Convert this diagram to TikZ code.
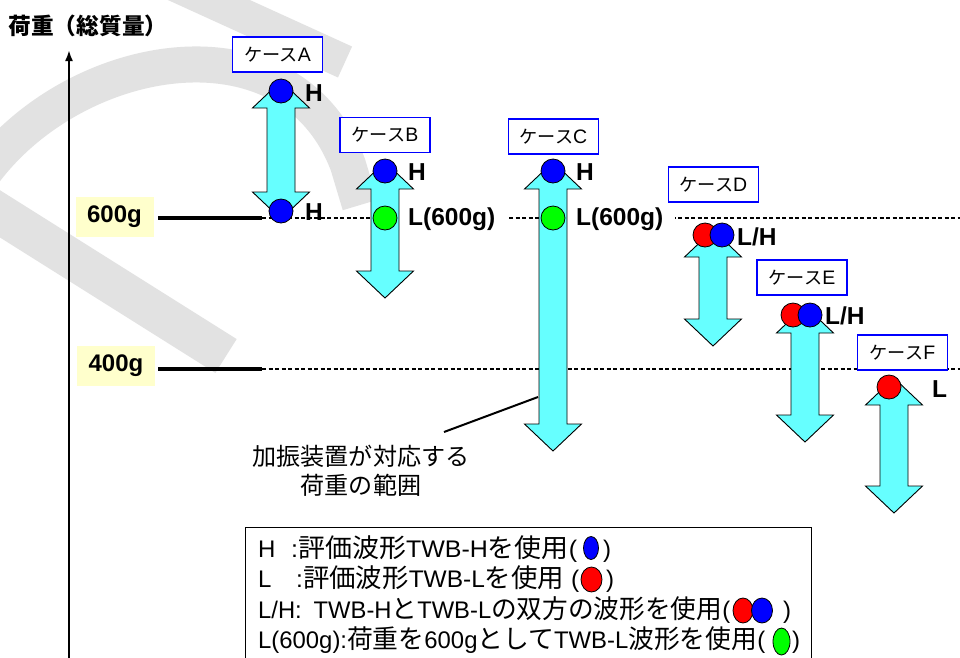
\documentclass[tikz,border=0pt]{standalone}
\usepackage{fontspec}
\usepackage{graphicx}
\setmainfont{Liberation Sans}
\newfontfamily\jp[Scale=1.08]{Noto Sans CJK JP}
\newcommand\J[1]{{\jp #1}}
\newcommand\Jc[1]{{\jp\fontsize{16.8}{18}\selectfont #1}}
\usetikzlibrary{arrows.meta,calc}
\definecolor{cyanA}{HTML}{66FFFF}
\definecolor{yel}{HTML}{FFFFCC}
\definecolor{pblue}{HTML}{0000FF}
\definecolor{pred}{HTML}{FF0000}
\definecolor{pgreen}{HTML}{00FF00}
\definecolor{wm}{HTML}{E2E2E2}
\newsavebox\fitbox
\newlength\fitlen
\newcommand\fitw[2]{\sbox\fitbox{#2}\setlength\fitlen{\wd\fitbox}\pgfmathsetmacro\fitsx{#1/\fitlen}\scalebox{\fitsx}[1]{\usebox\fitbox}}
\newcommand\dblarrow[3]{%
  \draw[arr] (#1-14,#2+27) -- (#1-28.5,#2+27) -- (#1,#2) -- (#1+28.5,#2+27) -- (#1+14,#2+27)
    -- (#1+14,#3-27) -- (#1+28.5,#3-27) -- (#1,#3) -- (#1-28.5,#3-27) -- (#1-14,#3-27) -- cycle;}
\begin{document}
\begin{tikzpicture}[x=1pt,y=-1pt,
  arr/.style={draw=black,line width=0.9pt,fill=cyanA,line join=miter},
  ball/.style={circle,draw=black,line width=0.8pt,minimum size=24pt,inner sep=0pt},
  casebox/.style={draw=pblue,line width=1.2pt,fill=white,minimum width=90pt,minimum height=35pt,inner sep=0pt,font=\fontsize{19.5}{19.5}\selectfont},
  lab/.style={anchor=west,inner sep=0pt,font=\fontsize{24.5}{24.5}\selectfont\bfseries},
  ybox/.style={fill=yel,minimum width=78pt,minimum height=40pt,inner sep=0pt,font=\fontsize{24}{24}\selectfont\bfseries},
  lvl/.style={line width=3.5pt},
  dsh/.style={line width=1.4pt,dash pattern=on 4pt off 2.5pt},
  leg/.style={anchor=base west,inner sep=0pt,font=\fontsize{24}{24}\selectfont},
  legball/.style={draw=black,line width=0.8pt},
  wmband/.style={draw=wm,line cap=butt},
]
\clip (0,0) rectangle (960,657);
\fill[white] (0,0) rectangle (960,657);

% faint watermark strokes
\draw[wmband,line width=40pt] (-30,195) -- (226,356);
\draw[wmband,line width=36pt] (-20,178) .. controls (70,50) and (290,10) .. (348,165) -- (360,205);
\draw[wmband,line width=34pt] (165,-20) -- (345,62);

% title and axis
\node[inner sep=0pt,font=\fontsize{21}{21}\selectfont] (title) at (88,26) {\J{\bfseries 荷重（総質量）}};
\coordinate (ax0) at (69,660);
\coordinate (ax1) at (69,50);
\draw[line width=2pt,-{Latex[length=11pt,width=8pt]}] (ax0) -- (ax1);

% levels
\coordinate (l6a) at (158,218); \coordinate (l6b) at (262,218); \coordinate (l6c) at (960,218);
\coordinate (l4a) at (158,369); \coordinate (l4b) at (262,369); \coordinate (l4c) at (960,369);
\draw[dsh] (l6b) -- (l6c);
\draw[dsh] (l4b) -- (l4c);
\fill[white] (399,206) rectangle (508,231);
\fill[white] (567,206) rectangle (675,231);
\draw[lvl] (l6a) -- (l6b);
\draw[lvl] (l4a) -- (l4b);
\node[ybox] (g600) at (114.5,217) {600g};
\node[ybox] (g400) at (116,365.5) {400g};

% arrows
\dblarrow{281}{81}{219}
\dblarrow{385}{162}{298}
\dblarrow{553}{162}{451}
\dblarrow{713}{230}{346}
\dblarrow{805}{306}{442}
\dblarrow{894}{378}{513}

% case boxes
\node[casebox] (cA) at (277.5,54.5) {\Jc{ケース}A};
\node[casebox] (cB) at (385,135) {\Jc{ケース}B};
\node[casebox] (cC) at (553.5,136.5) {\Jc{ケース}C};
\node[casebox] (cD) at (713.5,184.5) {\Jc{ケース}D};
\node[casebox] (cE) at (802,277.5) {\Jc{ケース}E};
\node[casebox] (cF) at (902.5,352.5) {\Jc{ケース}F};

% balls
\node[ball,fill=pblue] (a1) at (281,91) {};
\node[ball,fill=pblue] (a2) at (281,211) {};
\node[ball,fill=pblue] (b1) at (385,171) {};
\node[ball,fill=pgreen] (b2) at (385,218) {};
\node[ball,fill=pblue] (c1) at (553,171) {};
\node[ball,fill=pgreen] (c2) at (553,218) {};
\node[ball,fill=pred] (d1) at (705,235) {};
\node[ball,fill=pblue] (d2) at (722,235) {};
\node[ball,fill=pred] (e1) at (793,315) {};
\node[ball,fill=pblue] (e2) at (810,315) {};
\node[ball,fill=pred] (f1) at (889,387) {};

% labels
\node[lab] (ha1) at (305,93) {H};
\node[lab] (ha2) at (305,212) {H};
\node[lab] (hb1) at (408,172) {H};
\node[lab] (lb2) at (408,219) {L(600g)};
\node[lab] (hc1) at (576,172) {H};
\node[lab] (lc2) at (576,219) {L(600g)};
\node[lab] (ld) at (737,237) {L/H};
\node[lab] (le) at (825,316) {L/H};
\node[lab] (lf) at (932,389) {L};

% annotation
\node[inner sep=0pt,font=\fontsize{22.3}{22.3}\selectfont,align=center] (note) at (361,471)
  {\J{加振装置が対応する}\\[6pt]\J{荷重の範囲}};
\coordinate (notetip) at (538,397);
\coordinate (noteend) at (444,432);
\draw[line width=2pt] (notetip) -- (noteend);

% legend
\draw[line width=1pt] (245,527) rectangle (811,690);
\node[leg] (k1a) at (258,557.5) {H};
\node[leg] (k1b) at (291,557.5) {\fitw{286}{:\J{評価波形}TWB-H\J{を使用}(}};
\coordinate (k1c) at (591,548);
\draw[legball,fill=pblue] (k1c) ellipse [x radius=7.5, y radius=11.5];
\node[leg] (k1d) at (603,557.5) {)};

\node[leg] (k2a) at (258,587.5) {L};
\node[leg] (k2b) at (296,587.5) {\fitw{283}{:\J{評価波形}TWB-L\J{を使用} (}};
\coordinate (k2c) at (591.5,579.5);
\draw[legball,fill=pred] (k2c) ellipse [x radius=10.5, y radius=12.5];
\node[leg] (k2d) at (606,587.5) {)};

\node[leg] (k3a) at (258,618) {\fitw{472}{L/H:\hspace{12pt}TWB-H\J{と}TWB-L\J{の双方の波形を使用}(}};
\coordinate (k3c) at (743,610.5);
\coordinate (k3e) at (762,610.5);
\draw[legball,fill=pred] (k3c) ellipse [x radius=10, y radius=12.5];
\draw[legball,fill=pblue] (k3e) ellipse [x radius=10.5, y radius=12.5];
\node[leg] (k3d) at (783,618) {)};

\node[leg] (k4a) at (258,648) {\fitw{507}{L(600g):\J{荷重を}600g\J{として}TWB-L\J{波形を使用}(}};
\coordinate (k4c) at (781.5,641.5);
\draw[legball,fill=pgreen] (k4c) ellipse [x radius=8.5, y radius=13.5];
\node[leg] (k4d) at (792,648) {)};
\end{tikzpicture}
\end{document}
